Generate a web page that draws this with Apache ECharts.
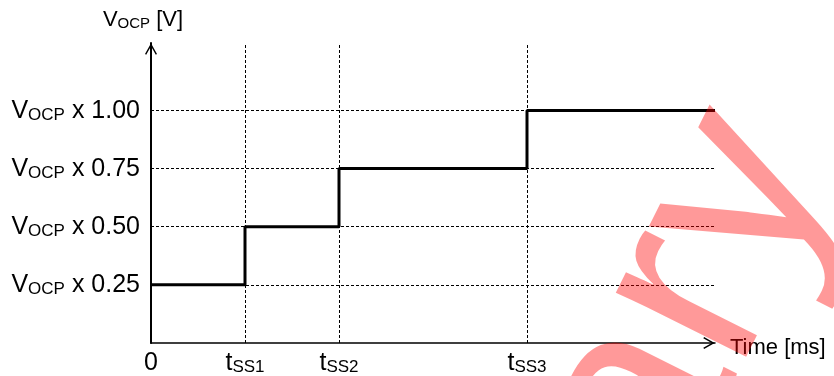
<!DOCTYPE html>
<html>
<head>
<meta charset="utf-8">
<script src="https://cdn.jsdelivr.net/npm/echarts@6/dist/echarts.min.js"></script>
<style>
  html, body { margin: 0; padding: 0; background: #fff; }
  #chart { width: 834px; height: 376px; }
</style>
</head>
<body>
<div id="chart"></div>
<script>
// Soft-start over-current threshold: V_OCP rises in steps at t_SS1..t_SS3
const stepTimes  = [0, 1, 2, 4, 6];
const stepLevels = [0.25, 0.50, 0.75, 1.00, 1.00];

// Time markers (x) and their labels, subscript part kept separate
const timeMarks      = [1, 2, 4];
const timeTickValues = [0, 1, 2, 4];
const timeTickMain   = ['0', 't', 't', 't'];
const timeTickSub    = ['', 'SS1', 'SS2', 'SS3'];

// Threshold levels (y) and their labels
const levelTicks = [0.25, 0.50, 0.75, 1.00];
const levelText  = ['0.25', '0.50', '0.75', '1.00'];

const FONT = '"Liberation Sans", Arial, sans-serif';

// open chevron arrow head, pointing up in symbol space
const chevron = 'path://M6,0 L12,10.6 L10.8,11.4 L6,3 L1.2,11.4 L0,10.6 Z';

const chart = echarts.init(document.getElementById('chart'), null, { renderer: 'canvas' });

// tick labels (larger) and axis names (smaller)
const tickRich = {
  v: { fontFamily: FONT, fontSize: 25, color: '#000', lineHeight: 26, verticalAlign: 'bottom' },
  s: { fontFamily: FONT, fontSize: 17, color: '#000', lineHeight: 17, verticalAlign: 'bottom' },
  t: { fontFamily: FONT, fontSize: 25, color: '#000', lineHeight: 28, verticalAlign: 'bottom' },
  u: { fontFamily: FONT, fontSize: 17, color: '#000', lineHeight: 15, verticalAlign: 'bottom' }
};
const nameRich = {
  v: { fontFamily: FONT, fontSize: 22, color: '#000', lineHeight: 22, verticalAlign: 'bottom' },
  s: { fontFamily: FONT, fontSize: 15, color: '#000', lineHeight: 15, verticalAlign: 'bottom' }
};

chart.setOption({
  animation: false,
  backgroundColor: '#fff',
  grid: { left: 151, right: 119, top: 43, bottom: 33, containLabel: false },
  xAxis: {
    type: 'value',
    min: 0, max: 6, interval: 1,
    name: 'Time [ms]',
    nameLocation: 'end',
    nameGap: 15,
    nameTextStyle: {
      fontFamily: FONT, fontSize: 22, color: '#000',
      verticalAlign: 'top', lineHeight: 10
    },
    axisLine: {
      show: true,
      lineStyle: { color: '#000', width: 1.5 },
      symbol: ['none', chevron],
      symbolSize: [12, 12],
      symbolOffset: [0, -6]
    },
    axisTick: { show: false },
    splitLine: { show: false },
    axisLabel: {
      margin: 5,
      formatter: function (v) {
        const i = timeTickValues.indexOf(v);
        if (i < 0) return '';
        return timeTickSub[i]
          ? '{t|' + timeTickMain[i] + '}{u|' + timeTickSub[i] + '}'
          : '{t|' + timeTickMain[i] + '}';
      },
      rich: tickRich
    }
  },
  yAxis: {
    type: 'value',
    min: 0, max: 1.29, interval: 0.25,
    name: '{v|V}{s|OCP}{v| [V]}',
    nameLocation: 'end',
    nameGap: 12,
    nameTextStyle: { padding: [0, 16, 0, 0], rich: nameRich },
    axisLine: {
      show: true,
      lineStyle: { color: '#000', width: 2 },
      symbol: ['none', chevron],
      symbolSize: [12, 12],
      symbolOffset: [0, -6]
    },
    axisTick: { show: false },
    splitLine: { show: false },
    axisLabel: {
      margin: 11,
      formatter: function (v) {
        const i = levelTicks.indexOf(v);
        if (i < 0) return '';
        return '{v|V}{s|OCP}{v| x ' + levelText[i] + '}';
      },
      rich: tickRich
    }
  },
  series: [{
    type: 'line',
    step: 'end',
    showSymbol: false,
    data: stepTimes.map((t, i) => [t, stepLevels[i]]),
    lineStyle: { color: '#000', width: 3 },
    z: 5,
    markLine: {
      silent: true,
      symbol: ['none', 'none'],
      label: { show: false },
      lineStyle: { color: '#000', width: 1, type: [3, 2] },
      data: levelTicks.map(v => ({ yAxis: v }))
        .concat(timeMarks.map(v => ({ xAxis: v })))
    }
  }],
  graphic: [{
    // translucent draft watermark laid over the plot
    type: 'text',
    x: 772, y: 135,
    rotation: 63.5 * Math.PI / 180,
    z: 100,
    silent: true,
    style: {
      text: 'Preliminary',
      font: '275px "Liberation Sans", Arial, sans-serif',
      fill: 'rgba(255, 0, 0, 0.4)',
      align: 'right',
      verticalAlign: 'middle'
    }
  }]
});
</script>
</body>
</html>
